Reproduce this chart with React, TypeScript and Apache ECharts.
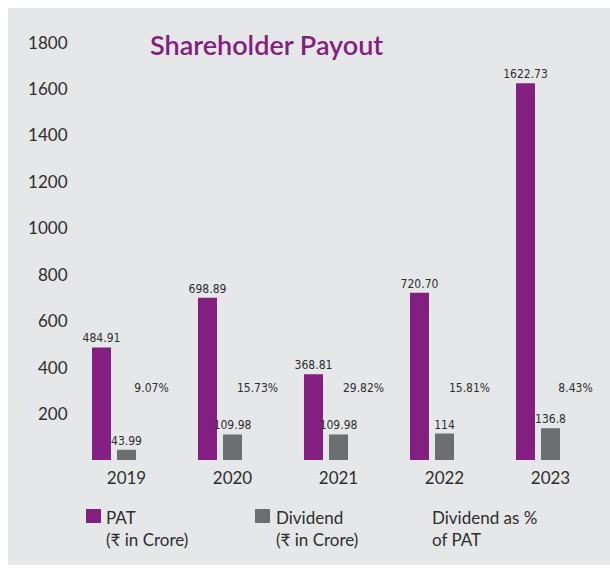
import React, { useEffect, useRef } from "react";
import * as echarts from "echarts";

const categories = ["2019", "2020", "2021", "2022", "2023"];
const patValues = [484.91, 698.89, 368.81, 720.7, 1622.73];
const dividendValues = [43.99, 109.98, 109.98, 114, 136.8];
const payoutPct = [9.07, 15.73, 29.82, 15.81, 8.43];
const yMin = 0;
const yMax = 1800;
const yInterval = 200;

const PURPLE = "#831f81";
const GREY = "#6d6e71";
const BG = "#e6e7e9";
const TEXT = "#2e2e2e";
const NARROW = "'DejaVu Sans Condensed', Roboto, sans-serif";
const SANS = "Lato, 'Noto Sans', sans-serif";

export default function App() {
  const ref = useRef<HTMLDivElement>(null);

  useEffect(() => {
    if (!ref.current) return;
    const chart = echarts.init(ref.current, undefined, { renderer: "svg" });
    const valueLabel = (fmt: (v: number) => string) => ({
      show: true,
      position: "top" as const,
      distance: 3,
      color: TEXT,
      fontSize: 12,
      fontFamily: NARROW,
      formatter: (p: any) => fmt(p.value as number),
    });
    chart.setOption({
      animation: false,
      backgroundColor: "#ffffff",
      title: {
        text: "Shareholder Payout",
        left: 150,
        top: 31,
        padding: 0,
        textStyle: {
          color: "#83207f",
          fontSize: 27,
          fontWeight: 600,
          fontFamily: SANS,
        },
      },
      graphic: [
        {
          type: "rect",
          z: -10,
          silent: true,
          shape: { x: 8, y: 8, width: 602, height: 557 },
          style: { fill: BG },
        },
        {
          type: "rect",
          shape: { x: 86, y: 509, width: 15, height: 14 },
          style: { fill: PURPLE },
        },
        {
          type: "text",
          x: 106,
          y: 506,
          style: {
            text: "PAT\n(₹ in Crore)",
            fill: TEXT,
            fontSize: 17,
            lineHeight: 22,
            fontFamily: SANS,
          },
        },
        {
          type: "rect",
          shape: { x: 255, y: 509, width: 15, height: 14 },
          style: { fill: GREY },
        },
        {
          type: "text",
          x: 276,
          y: 506,
          style: {
            text: "Dividend\n(₹ in Crore)",
            fill: TEXT,
            fontSize: 17,
            lineHeight: 22,
            fontFamily: SANS,
          },
        },
        {
          type: "text",
          x: 432,
          y: 506,
          style: {
            text: "Dividend as %\nof PAT",
            fill: TEXT,
            fontSize: 17,
            lineHeight: 22,
            fontFamily: SANS,
          },
        },
      ],
      grid: { left: 73.5, right: 6.5, top: 42, bottom: 111 },
      xAxis: {
        type: "category",
        data: categories,
        axisLine: { show: false },
        axisTick: { show: false },
        axisLabel: {
          margin: 9,
          color: TEXT,
          fontSize: 17,
          fontFamily: SANS,
        },
      },
      yAxis: {
        type: "value",
        min: yMin,
        max: yMax,
        interval: yInterval,
        splitLine: { show: false },
        axisLine: { show: false },
        axisTick: { show: false },
        axisLabel: {
          showMinLabel: false,
          margin: 6,
          color: TEXT,
          fontSize: 17,
          fontFamily: SANS,
          formatter: (v: number) => String(v),
        },
      },
      series: [
        {
          name: "PAT (₹ in Crore)",
          type: "bar",
          data: patValues,
          barWidth: 19,
          barGap: "31.6%",
          itemStyle: { color: PURPLE },
          label: valueLabel((v) => v.toFixed(2)),
        },
        {
          name: "Dividend (₹ in Crore)",
          type: "bar",
          data: dividendValues,
          barWidth: 19,
          barGap: "31.6%",
          itemStyle: { color: GREY },
          label: valueLabel((v) => String(v)),
        },
        {
          name: "Dividend as % of PAT",
          type: "bar",
          data: payoutPct,
          barWidth: 19,
          barGap: "31.6%",
          itemStyle: { color: "rgba(0,0,0,0)" },
          label: {
            show: true,
            position: "insideBottom",
            distance: 0,
            offset: [0, -66],
            color: TEXT,
            fontSize: 12,
            fontFamily: NARROW,
            formatter: (p: any) => (p.value as number).toFixed(2) + "%",
          },
        },
      ],
    });
    return () => chart.dispose();
  }, []);

  return (
    <div
      ref={ref}
      style={{ position: "absolute", left: 0, top: 0, width: 610, height: 571 }}
    />
  );
}
